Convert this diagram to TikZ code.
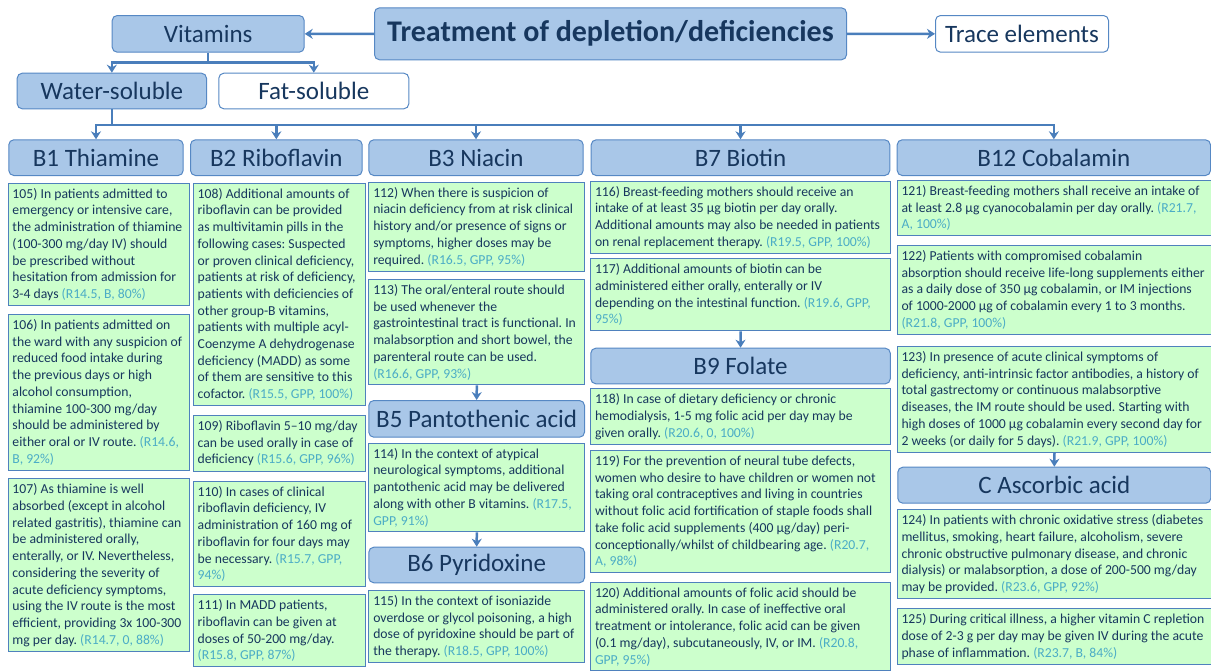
\documentclass[tikz,border=0pt]{standalone}
\usepackage{fontspec}
\setmainfont{Carlito}
\usetikzlibrary{arrows.meta}
\frenchspacing

\definecolor{hdrfill}{RGB}{169,199,232}
\definecolor{hdrline}{RGB}{86,136,196}
\definecolor{hdrtext}{RGB}{23,55,94}
\definecolor{notefill}{RGB}{204,255,204}
\definecolor{noteline}{RGB}{79,129,189}
\definecolor{refcol}{RGB}{75,172,198}
\definecolor{arrcol}{RGB}{74,126,187}

\newcommand{\recref}[1]{\textcolor{refcol}{#1}}

\tikzset{
	hdr/.style={draw=hdrline, fill=hdrfill, line width=1pt, rounded corners=5pt, text=hdrtext, anchor=north west, inner sep=0pt, font=\fontsize{25}{29}\selectfont},
	hdrwhite/.style={hdr, fill=white},
	note/.style={draw=noteline, fill=notefill, line width=1pt, anchor=north west, align=flush left, inner xsep=4.5pt, inner ysep=5pt, text=hdrtext, font=\fontsize{13.7}{16.7}\selectfont},
	link/.style={draw=arrcol, line width=2.5pt},
	arr/.style={link, -{Stealth[length=8pt,width=10pt]}},
}

\begin{document}
\begin{tikzpicture}[x=1pt, y=-1pt]
		%%%%% START %%%%%
		\useasboundingbox (0,0) rectangle (1211,672);
		
		% top row
		\node[hdr, minimum width=472, minimum height=52, font=\fontsize{30}{35}\selectfont\bfseries] (title) at (374,7.3) {Treatment of depletion/deficiencies};
		\node[hdr, minimum width=192, minimum height=36.7] (vit) at (111.7,15) {Vitamins};
		\node[hdrwhite, minimum width=173, minimum height=36.7] (trace) at (935,15) {Trace elements};
		\node[hdr, minimum width=189.3, minimum height=35.6] (water) at (16.7,72.7) {Water-soluble};
		\node[hdrwhite, minimum width=190, minimum height=35.6] (fat) at (218.3,72.7) {Fat-soluble};
		
		% vitamin heads
		\node[hdr, minimum width=174.4, minimum height=35.7] (b1) at (8.3,139.3) {B1 Thiamine};
		\node[hdr, minimum width=171.7, minimum height=35.7] (b2) at (190,139.3) {B2 Riboflavin};
		\node[hdr, minimum width=214.4, minimum height=35.7] (b3) at (368.3,139.3) {B3 Niacin};
		\node[hdr, minimum width=298.6, minimum height=35.7] (b7) at (590.7,139.3) {B7 Biotin};
		\node[hdr, minimum width=313.3, minimum height=35.7] (b12) at (896.7,139.3) {B12 Cobalamin};
		\node[hdr, minimum width=215.7, minimum height=36.7] (b5) at (368.3,400) {B5 Pantothenic acid};
		\node[hdr, minimum width=215.7, minimum height=35.6] (b6) at (368.3,546.7) {B6 Pyridoxine};
		\node[hdr, minimum width=299.5, minimum height=35.6] (b9) at (590.3,347.7) {B9 Folate};
		\node[hdr, minimum width=313, minimum height=36] (vc) at (897.3,466.7) {C Ascorbic acid};
		
		% B1
		\node[note, text width=172] (r105) at (7.5,182.7) {105) In patients admitted to\\emergency or intensive care,\\the administration of thiamine\\(100-300 mg/day IV) should\\be prescribed without\\hesitation from admission for\\3-4 days \recref{(R14.5, B, 80\%)}};
		\node[note, text width=172] (r106) at (7.5,314) {106) In patients admitted on\\the ward with any suspicion of\\reduced food intake during\\the previous days or high\\alcohol consumption,\\thiamine 100-300 mg/day\\should be administered by\\either oral or IV route. \recref{(R14.6,}\\\recref{B, 92\%)}};
		\node[note, text width=172] (r107) at (7.5,478.3) {107) As thiamine is well\\absorbed (except in alcohol\\related gastritis), thiamine can\\be administered orally,\\enterally, or IV. Nevertheless,\\considering the severity of\\acute deficiency symptoms,\\using the IV route is the most\\efficient, providing 3x 100-300\\mg per day. \recref{(R14.7, 0, 88\%)}};
		
		% B2
		\node[note, text width=163] (r108) at (192.7,182.7) {108) Additional amounts of\\riboflavin can be provided\\as multivitamin pills in the\\following cases: Suspected\\or proven clinical deficiency,\\patients at risk of deficiency,\\patients with deficiencies of\\other group-B vitamins,\\patients with multiple acyl-\\Coenzyme A dehydrogenase\\deficiency (MADD) as some\\of them are sensitive to this\\cofactor. \recref{(R15.5, GPP, 100\%)}};
		\node[note, text width=163] (r109) at (192.7,415) {109) Riboflavin 5--10 mg/day\\can be used orally in case of\\deficiency \recref{(R15.6, GPP, 96\%)}};
		\node[note, text width=163] (r110) at (192.7,480.7) {110) In cases of clinical\\riboflavin deficiency, IV\\administration of 160 mg of\\riboflavin for four days may\\be necessary. \recref{(R15.7, GPP,}\\\recref{94\%)}};
		\node[note, text width=163] (r111) at (192.7,594.3) {111) In MADD patients,\\riboflavin can be given at\\doses of 50-200 mg/day.\\\recref{(R15.8, GPP, 87\%)}};
		
		% B3, B5, B6
		\node[note, text width=207] (r112) at (368.3,181.7) {112) When there is suspicion of\\niacin deficiency from at risk clinical\\history and/or presence of signs or\\symptoms, higher doses may be\\required. \recref{(R16.5, GPP, 95\%)}};
		\node[note, text width=207] (r113) at (368.3,279) {113) The oral/enteral route should\\be used whenever the\\gastrointestinal tract is functional. In\\malabsorption and short bowel, the\\parenteral route can be used.\\\recref{(R16.6, GPP, 93\%)}};
		\node[note, text width=207] (r114) at (368.3,442.7) {114) In the context of atypical\\neurological symptoms, additional\\pantothenic acid may be delivered\\along with other B vitamins.\ \recref{(R17.5,}\\\recref{GPP, 91\%)}};
		\node[note, text width=207] (r115) at (368.3,590) {115) In the context of isoniazide\\overdose or glycol poisoning, a high\\dose of pyridoxine should be part of\\the therapy. \recref{(R18.5, GPP, 100\%)}};
		
		% B7, B9
		\node[note, text width=291] (r116) at (590,180.7) {116) Breast-feeding mothers should receive an\\intake of at least 35 µg biotin per day orally.\\Additional amounts may also be needed in patients\\on renal replacement therapy. \recref{(R19.5, GPP, 100\%)}};
		\node[note, text width=291] (r117) at (590,258.3) {117) Additional amounts of biotin can be\\administered either orally, enterally or IV\\depending on the intestinal function. \recref{(R19.6, GPP,}\\\recref{95\%)}};
		\node[note, text width=291] (r118) at (590,388.3) {118) In case of dietary deficiency or chronic\\hemodialysis, 1-5 mg folic acid per day may be\\given orally. \recref{(R20.6, 0, 100\%)}};
		\node[note, text width=291] (r119) at (590,450) {119) For the prevention of neural tube defects,\\women who desire to have children or women not\\taking oral contraceptives and living in countries\\without folic acid fortification of staple foods shall\\take folic acid supplements (400 µg/day) peri-\\conceptionally/whilst of childbearing age. \recref{(R20.7,}\\\recref{A, 98\%)}};
		\node[note, text width=291] (r120) at (590,581.7) {120) Additional amounts of folic acid should be\\administered orally. In case of ineffective oral\\treatment or intolerance, folic acid can be given\\(0.1 mg/day), subcutaneously, IV, or IM. \recref{(R20.8,}\\\recref{GPP, 95\%)}};
		
		% B12, C
		\node[note, text width=306, inner xsep=4pt] (r121) at (897,180) {121) Breast-feeding mothers shall receive an intake of\\at least 2.8 µg cyanocobalamin per day orally. \recref{(R21.7,}\\\recref{A, 100\%)}};
		\node[note, text width=306, inner xsep=4pt] (r122) at (897,245) {122) Patients with compromised cobalamin\\absorption should receive life-long supplements either\\as a daily dose of 350 µg cobalamin, or IM injections\\of 1000-2000 µg of cobalamin every 1 to 3 months.\\\recref{(R21.8, GPP, 100\%)}};
		\node[note, text width=306, inner xsep=4pt] (r123) at (897,346) {123) In presence of acute clinical symptoms of\\deficiency, anti-intrinsic factor antibodies, a history of\\total gastrectomy or continuous malabsorptive\\diseases, the IM route should be used. Starting with\\high doses of 1000 µg cobalamin every second day for\\2 weeks (or daily for 5 days). \recref{(R21.9, GPP, 100\%)}};
		\node[note, text width=306, inner xsep=4pt] (r124) at (897,509.3) {124) In patients with chronic oxidative stress (diabetes\\mellitus, smoking, heart failure, alcoholism, severe\\chronic obstructive pulmonary disease, and chronic\\dialysis) or malabsorption, a dose of 200-500 mg/day\\may be provided. \recref{(R23.6, GPP, 92\%)}};
		\node[note, text width=306, inner xsep=4pt] (r125) at (897,608.3) {125) During critical illness, a higher vitamin C repletion\\dose of 2-3 g per day may be given IV during the acute\\phase of inflammation. \recref{(R23.7, B, 84\%)}};
		
		% connectors
		\draw[arr] (title.west) -- (vit.east);
		\draw[arr] (title.east) -- (trace.west);
		
		\draw[link] (vit.south) -- ++(0,10) coordinate (fork);
		\draw[arr] (fork) -| (water.north);
		\draw[arr] (fork) -| (fat.north);
		
		\draw[link] (water.south) -- ++(0,15.7) coordinate (bus);
		\foreach \b in {b1,b2,b3,b7,b12}
			\draw[arr] (bus) -| (\b.north);
		
		\draw[arr] (r113.south) -- (b5.north);
		\draw[arr] (r114.south) -- (b6.north);
		\draw[arr] (r117.south) -- (b9.north);
		\draw[arr] (r123.south) -- (vc.north);
		
		%%%%% END %%%%%
\end{tikzpicture}
\end{document}
